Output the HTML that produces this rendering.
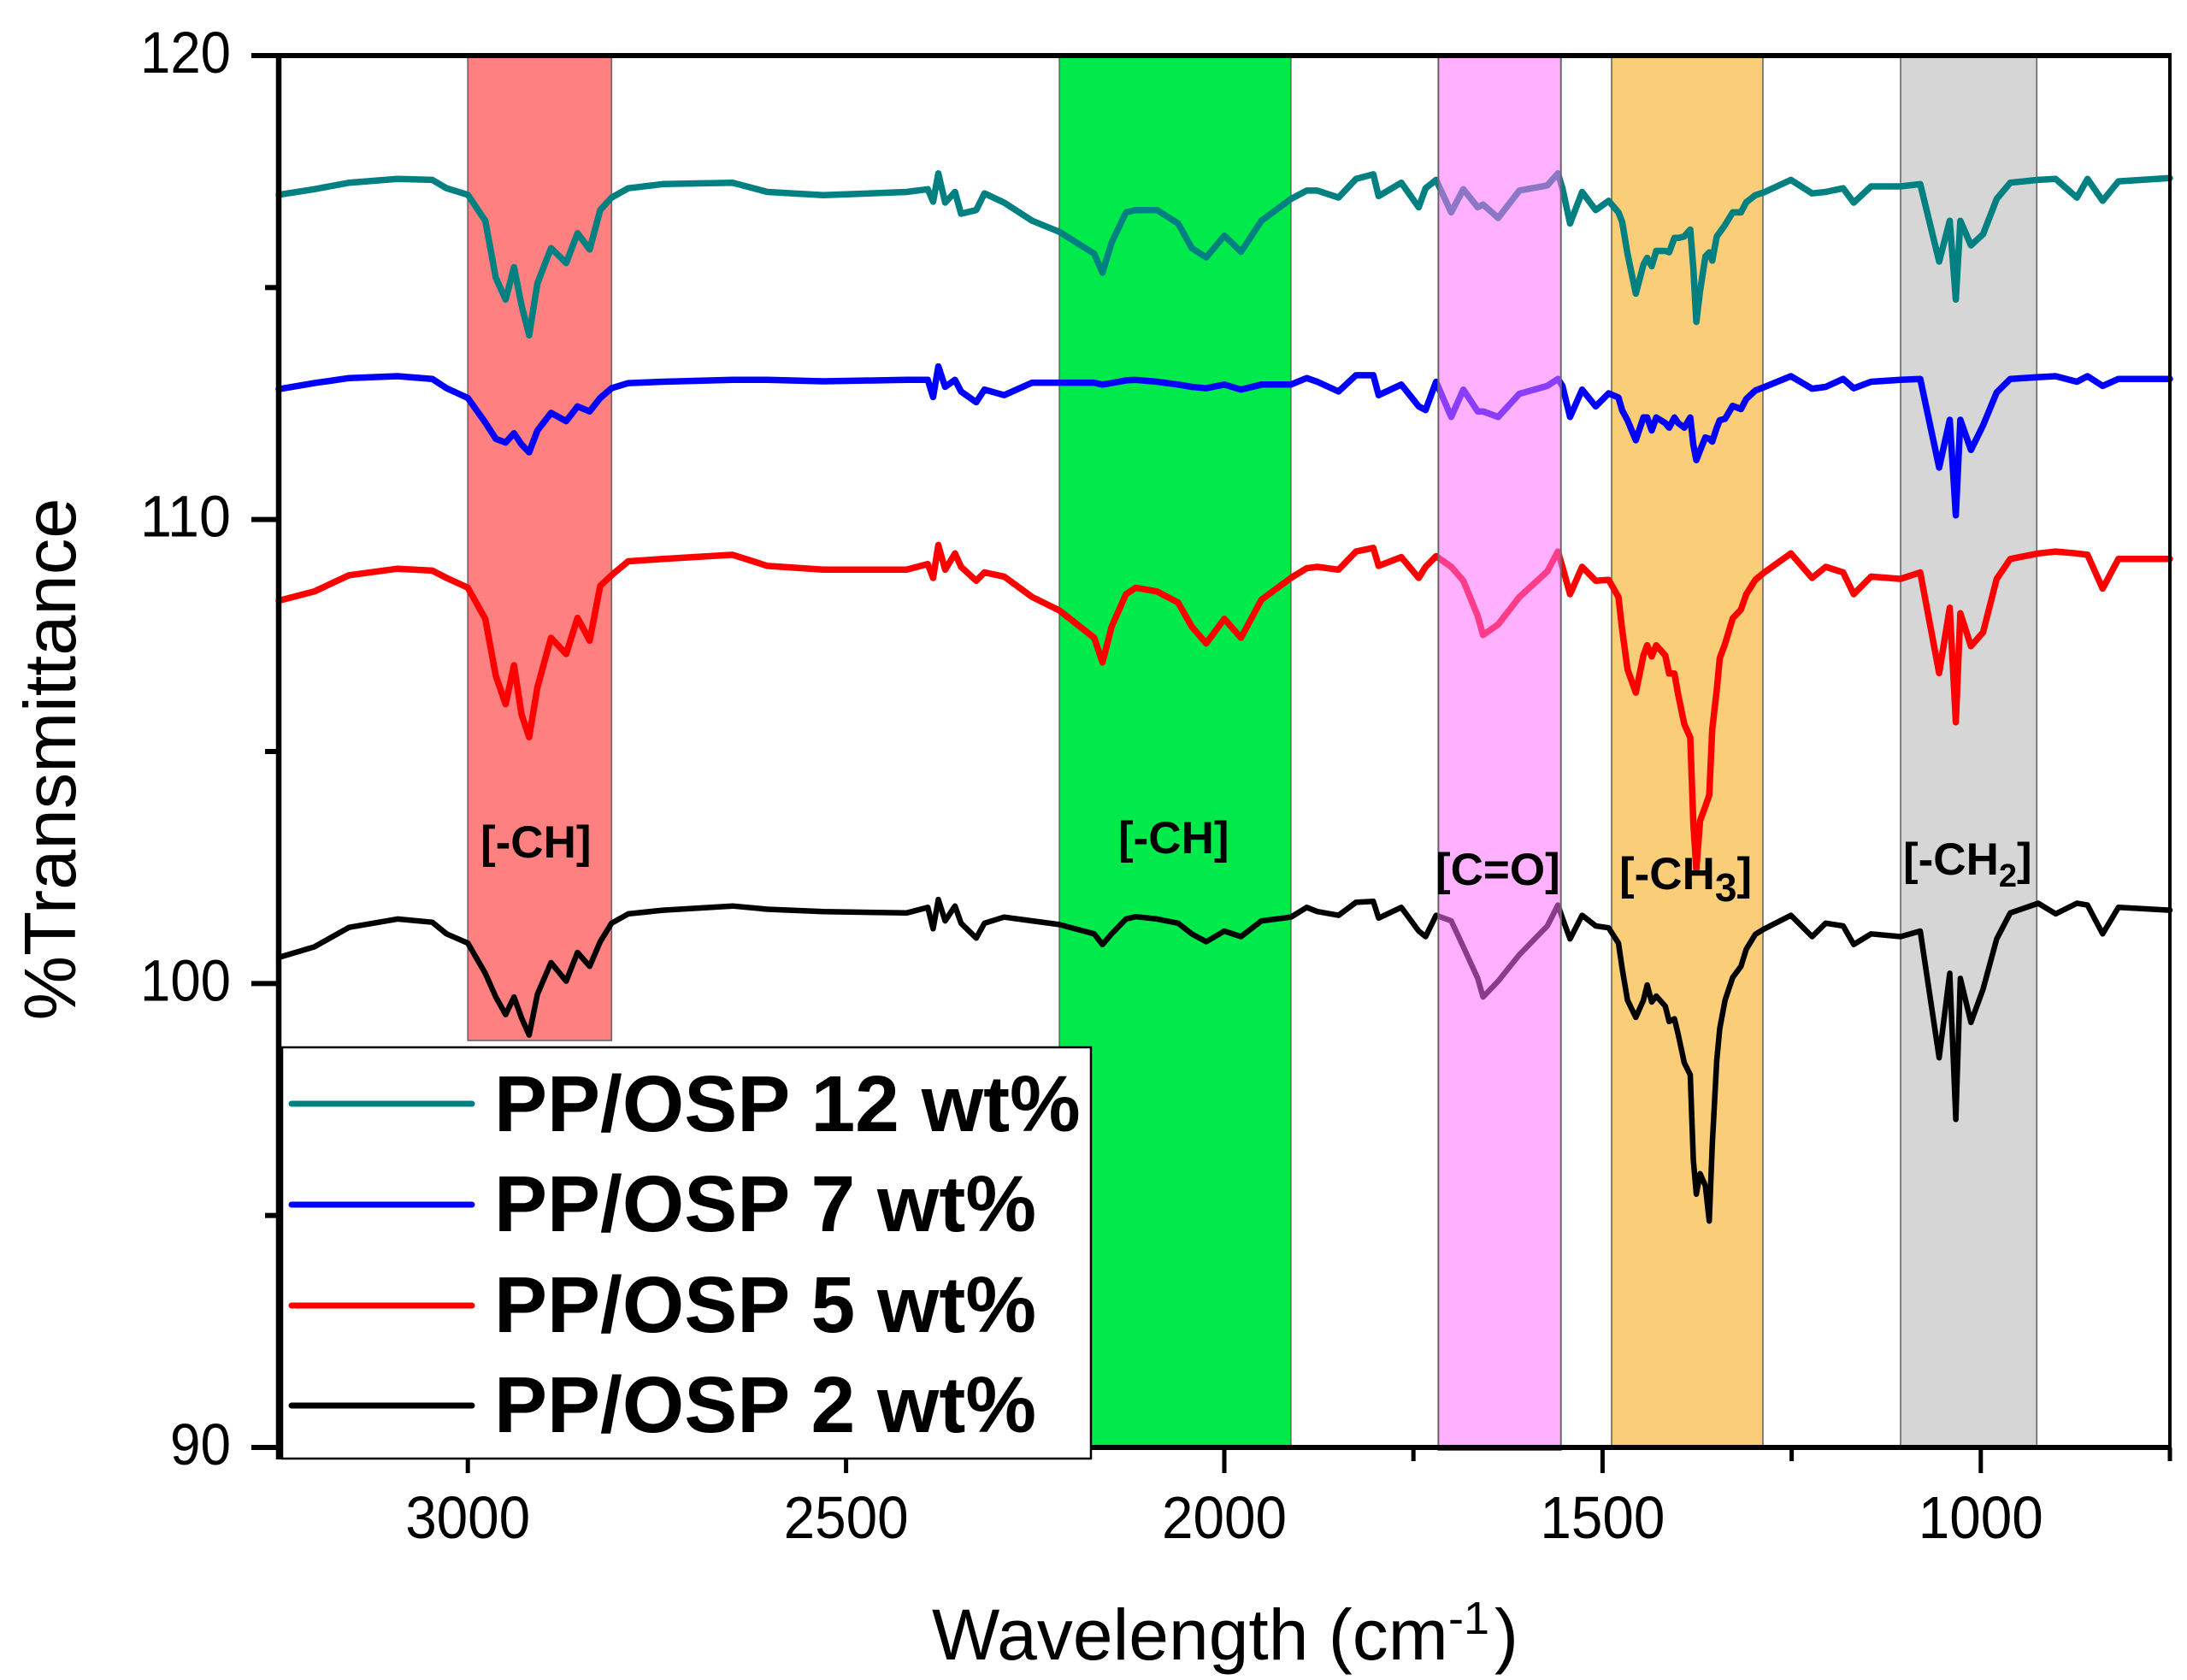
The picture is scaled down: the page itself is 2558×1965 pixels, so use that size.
<!DOCTYPE html>
<html lang="en">
<head>
<meta charset="utf-8">
<title>FTIR spectra of PP/OSP composites</title>
<style>
html,body{margin:0;padding:0;background:#fff;}
svg{display:block;font-family:"Liberation Sans",sans-serif;}
</style>
</head>
<body>
<svg id="chart" xmlns="http://www.w3.org/2000/svg" width="2558" height="1965" viewBox="0 0 2558 1965">
<rect x="0" y="0" width="2558" height="1965" fill="#ffffff"/>
<g id="bands-under"></g>
<g id="series"></g>
<g id="bands-over"></g>
<g id="axes"></g>
<g id="legend">
<rect x="330" y="1225" width="946" height="481" fill="#ffffff" stroke="#000000" stroke-width="2.5"/>
</g>
<g font-weight="bold" font-size="53" fill="#000000">
<text x="562" y="1003">[-CH]</text>
<text x="1308" y="998">[-CH]</text>
<text x="1679" y="1035">[C=O]</text>
<text x="1894" y="1040">[-CH<tspan dy="14" font-size="46">3</tspan><tspan dy="-14">]</tspan></text>
<text x="2226" y="1023">[-CH<tspan dy="14" font-size="38">2</tspan><tspan dy="-14">]</tspan></text>
</g>
<text transform="translate(88,888) rotate(-90)" text-anchor="middle" font-size="85" fill="#000000">%Transmittance</text>
<text x="1090" y="1941" font-size="84" fill="#000000">Wavelength (cm</text>
<text x="1694" y="1911" font-size="54" fill="#000000">-1</text>
<text x="1748" y="1941" font-size="84" fill="#000000">)</text>
</svg>
<script>
var wavenumbers = [3250,3203,3157,3093,3047,3028,3000,2977,2963,2950,2939,2929,2919,2908,2890,2870,2855,2839,2825,2810,2788,2742,2650,2604,2530,2420,2392,2385,2378,2369,2356,2348,2328,2317,2291,2254,2218,2172,
2161,2149,2130,2117,2089,2061,2043,2024,2000,1978,1951,1912,1891,1877,1849,1826,1803,1796,1766,1743,1734,1720,1700,1684,1665,1658,1638,1610,1573,1559,1553,1543,1527,1509,
1492,1479,1474,1467,1456,1446,1441,1435,1429,1417,1412,1405,1400,1392,1384,1380,1376,1371,1364,1359,1355,1349,1345,1338,1328,1317,1310,1298,1287,
1251,1223,1205,1182,1168,1145,1106,1080,1055,1041,1033,1027,1013,997,979,961,924,901,873,859,839,818,750];

var osp12 = [117.00,117.12,117.26,117.34,117.32,117.14,117.00,116.44,115.21,114.74,115.44,114.62,113.97,115.09,115.85,115.53,116.17,115.82,116.67,116.94,117.14,117.23,117.26,117.06,116.99,117.06,117.12,116.85,117.46,116.83,117.06,116.59,116.67,117.03,116.83,116.44,116.20,115.73,
115.32,115.97,116.62,116.67,116.67,116.38,115.85,115.65,116.12,115.77,116.44,116.91,117.09,117.09,116.94,117.34,117.44,116.97,117.26,116.73,117.14,117.32,116.62,117.12,116.73,116.79,116.50,117.09,117.20,117.46,117.14,116.38,117.06,116.67,
116.87,116.62,116.41,115.73,114.87,115.49,115.64,115.46,115.79,115.79,115.76,116.07,116.07,116.10,116.25,115.42,114.26,114.93,115.67,115.76,115.58,116.10,116.19,116.35,116.62,116.62,116.84,116.99,117.05,
117.32,117.03,117.06,117.14,116.83,117.18,117.18,117.23,115.56,116.44,114.74,116.44,115.91,116.15,116.91,117.26,117.32,117.34,116.94,117.34,116.87,117.29,117.36];

var osp7 = [112.81,112.94,113.05,113.09,113.03,112.83,112.62,112.09,111.74,111.66,111.86,111.62,111.45,111.92,112.30,112.12,112.44,112.33,112.62,112.83,112.94,112.97,113.01,113.01,112.98,113.01,113.01,112.64,113.30,112.86,113.01,112.76,112.53,112.80,112.68,112.95,112.95,112.95,
112.91,112.94,113.00,113.01,112.97,112.91,112.86,112.83,112.91,112.80,112.91,112.91,113.05,112.97,112.76,113.11,113.11,112.68,112.91,112.44,112.36,112.97,112.21,112.80,112.33,112.33,112.21,112.71,112.88,113.03,112.88,112.21,112.80,112.44,
112.72,112.63,112.35,112.14,111.71,112.20,112.20,111.92,112.20,112.08,111.98,112.20,112.08,111.98,112.20,111.61,111.28,111.49,111.77,111.74,111.68,111.98,112.14,112.17,112.45,112.38,112.60,112.78,112.85,
113.09,112.82,112.86,113.03,112.83,112.97,113.01,113.03,111.12,112.15,110.09,112.15,111.50,112.03,112.74,113.03,113.07,113.09,112.97,113.09,112.88,113.03,113.03];

var osp5 = [108.25,108.45,108.80,108.94,108.90,108.74,108.53,107.86,106.63,106.02,106.86,105.80,105.31,106.39,107.45,107.10,107.88,107.39,108.57,108.80,109.10,109.15,109.24,109.00,108.92,108.92,109.04,108.74,109.45,108.92,109.27,108.98,108.68,108.86,108.77,108.33,108.04,107.45,
106.92,107.69,108.39,108.53,108.45,108.21,107.69,107.33,107.86,107.45,108.27,108.74,108.95,108.98,108.92,109.31,109.39,109.00,109.19,108.74,108.98,109.21,108.98,108.68,107.92,107.51,107.74,108.33,108.88,109.31,108.98,108.39,108.98,108.68,
108.70,108.33,107.62,106.77,106.27,107.07,107.29,107.05,107.29,107.07,106.68,106.68,106.22,105.59,105.30,103.45,102.46,103.51,103.82,104.06,105.48,106.33,107.01,107.32,107.87,108.06,108.39,108.70,108.85,
109.27,108.74,108.98,108.86,108.39,108.77,108.72,108.86,106.69,108.10,105.63,107.98,107.27,107.57,108.72,109.15,109.27,109.31,109.27,109.24,108.51,109.15,109.15];

var osp2 = [100.56,100.79,101.21,101.39,101.32,101.07,100.87,100.22,99.71,99.33,99.71,99.26,98.89,99.77,100.45,100.05,100.67,100.37,100.90,101.30,101.50,101.58,101.67,101.60,101.55,101.52,101.64,101.18,101.81,101.35,101.67,101.30,100.98,101.30,101.43,101.35,101.27,101.07,
100.84,101.07,101.39,101.44,101.39,101.30,101.07,100.90,101.13,101.01,101.35,101.43,101.64,101.55,101.47,101.75,101.77,101.41,101.64,101.13,101.01,101.47,101.35,100.79,100.11,99.71,100.05,100.62,101.24,101.69,101.41,100.96,101.47,101.24,
101.20,100.87,100.32,99.64,99.27,99.64,99.97,99.60,99.73,99.51,99.18,99.24,98.90,98.29,98.03,96.19,95.46,95.90,95.64,94.88,96.51,98.35,99.03,99.64,100.13,100.37,100.74,101.06,101.17,
101.47,101.01,101.30,101.24,100.84,101.07,101.01,101.13,98.40,100.22,97.07,100.11,99.16,99.88,100.96,101.52,101.73,101.50,101.73,101.69,101.07,101.64,101.58];

var seriesLabels = ["PP/OSP 12 wt%","PP/OSP 7 wt%","PP/OSP 5 wt%","PP/OSP 2 wt%"];
var yMajorTicks = [120,110,100,90];
var yMinorTicks = [115,105,95];
var xMajorTicks = [3000,2500,2000,1500,1000];
var xMinorTicks = [1750,1250,750];
var bandFrom = [3000,2218,1488,1106];
var bandTo = [2810,1912,1288,926];
var carbonylFrom = 1717;
var carbonylTo = 1555;

var NS = "http://www.w3.org/2000/svg";
var PLOT = {left:326, right:2538, top:65, bottom:1693};
var X_MAX = 3250, X_MIN = 750, Y_MIN = 90, Y_MAX = 120;
function xScale(w){ return PLOT.left + (X_MAX - w) / (X_MAX - X_MIN) * (PLOT.right - PLOT.left); }
function yScale(v){ return PLOT.bottom - (v - Y_MIN) / (Y_MAX - Y_MIN) * (PLOT.bottom - PLOT.top); }
function make(tag, attrs, parent){
  var el = document.createElementNS(NS, tag);
  for (var k in attrs) el.setAttribute(k, attrs[k]);
  parent.appendChild(el);
  return el;
}

var bandsUnder = document.getElementById("bands-under");
var bandFills = ["#ff8080","#00eb4b","#facd78","#d6d6d6"];
var bandNames = ["ch-stretch-band-1","ch-stretch-band-2","ch3-band","ch2-band"];
for (var b = 0; b < bandFrom.length; b++) {
  var bx0 = xScale(bandFrom[b]), bx1 = xScale(bandTo[b]);
  var bBottom = b === 0 ? 1217 : PLOT.bottom;
  var bandRect = make("rect", {x:bx0, y:PLOT.top, width:bx1-bx0, height:bBottom-PLOT.top, fill:bandFills[b], stroke:"#666666", "stroke-width":1.6}, bandsUnder);
  
  
}

var seriesGroup = document.getElementById("series");
var seriesData = [osp12, osp7, osp5, osp2];
var seriesColors = ["#008080","#0000ff","#ff0000","#000000"];
var seriesWidths = [7.5,7.5,7.5,6.5];
var seriesNames = ["series-osp-12","series-osp-7","series-osp-5","series-osp-2"];
for (var s = 0; s < seriesData.length; s++) {
  var d = "";
  for (var i = 0; i < wavenumbers.length; i++) {
    d += (i ? "L" : "M") + xScale(wavenumbers[i]).toFixed(1) + " " + yScale(seriesData[s][i]).toFixed(1);
  }
  var path = make("path", {d:d, fill:"none", stroke:seriesColors[s], "stroke-width":seriesWidths[s], "stroke-linejoin":"round", "stroke-linecap":"round"}, seriesGroup);
  
  
}

var bandsOver = document.getElementById("bands-over");
var cx0 = xScale(carbonylFrom), cx1 = xScale(carbonylTo);
var carbonylRect = make("rect", {x:cx0, y:PLOT.top, width:cx1-cx0, height:PLOT.bottom-PLOT.top+3, fill:"#ff6fff", "fill-opacity":0.54, stroke:"#666666", "stroke-width":2}, bandsOver);



var axes = document.getElementById("axes");
var leftSpine = make("line", {x1:PLOT.left, x2:PLOT.left, y1:PLOT.top-3, y2:1707, stroke:"#000", "stroke-width":6.5}, axes);


var topSpine = make("line", {x1:294, x2:PLOT.right+2, y1:PLOT.top, y2:PLOT.top, stroke:"#000", "stroke-width":6}, axes);


var rightSpine = make("line", {x1:PLOT.right, x2:PLOT.right, y1:PLOT.top, y2:PLOT.bottom+3, stroke:"#000", "stroke-width":4}, axes);


var bottomSpine = make("line", {x1:PLOT.left, x2:PLOT.right+2, y1:PLOT.bottom, y2:PLOT.bottom, stroke:"#000", "stroke-width":6}, axes);



yMajorTicks.forEach(function(v){
  var t = make("line", {x1:294, x2:PLOT.left, y1:yScale(v), y2:yScale(v), stroke:"#000", "stroke-width":6}, axes);
  
  
  var l = make("text", {x:270, y:yScale(v)+20, "text-anchor":"end", "font-size":69, fill:"#000", textLength:(String(v).length===3?106:71), lengthAdjust:"spacingAndGlyphs"}, axes);
  
  
  l.textContent = v;
});
yMinorTicks.forEach(function(v){
  var t = make("line", {x1:310, x2:PLOT.left, y1:yScale(v), y2:yScale(v), stroke:"#000", "stroke-width":6}, axes);
  
  
});
xMajorTicks.forEach(function(v){
  var t = make("line", {x1:xScale(v), x2:xScale(v), y1:PLOT.bottom, y2:1723, stroke:"#000", "stroke-width":5}, axes);
  
  
  var l = make("text", {x:xScale(v), y:1799, "text-anchor":"middle", "font-size":70, fill:"#000", textLength:146, lengthAdjust:"spacingAndGlyphs"}, axes);
  
  
  l.textContent = v;
});
xMinorTicks.forEach(function(v){
  var t = make("line", {x1:xScale(v), x2:xScale(v), y1:PLOT.bottom, y2:1709, stroke:"#000", "stroke-width":5}, axes);
  
  
});

var legend = document.getElementById("legend");
var legendLineY = [1291,1409,1527,1644];
var legendTextY = [1323,1440,1558,1675];
var legendWidths = [7,7,7,7];
for (var e = 0; e < seriesLabels.length; e++) {
  var ll = make("line", {x1:341, x2:552, y1:legendLineY[e], y2:legendLineY[e], stroke:seriesColors[e], "stroke-width":legendWidths[e], "stroke-linecap":"round"}, legend);
  
  
  var lt = make("text", {x:578, y:legendTextY[e], "font-size":93, "font-weight":"bold", fill:"#000"}, legend);
  
  
  lt.textContent = seriesLabels[e];
}
</script>
</body>
</html>
